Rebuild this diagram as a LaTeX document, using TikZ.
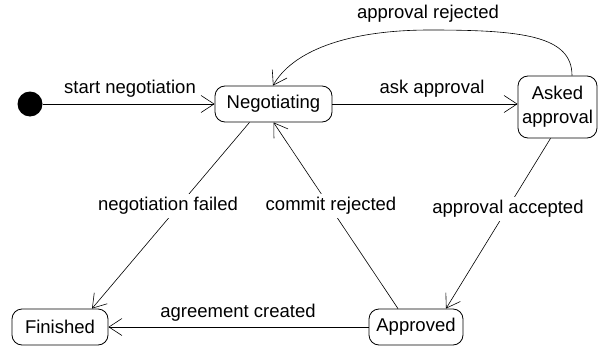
\documentclass[tikz,border=0pt]{standalone}
\usepackage{fontspec}
\setmainfont{Liberation Sans}
\usetikzlibrary{arrows.meta,calc}

\tikzset{
  state/.style={draw, line width=0.8pt, rounded corners=10pt, fill=white,
    minimum height=36pt, inner sep=2pt, font=\fontsize{18.5}{24}\selectfont},
  trans/.style={draw, line width=0.6pt, -{Straight Barb[length=13pt,width=17pt,line width=0.6pt]}},
  lbl/.style={font=\fontsize{18.5}{22}\selectfont, inner sep=1pt},
  cutlbl/.style={lbl, fill=white, inner sep=3pt},
}

\begin{document}
\begin{tikzpicture}[x=1pt, y=-1pt]
  \useasboundingbox (0,0) rectangle (613,353);

  % initial pseudo-state
  \node[circle, fill=black, minimum size=25pt, inner sep=0pt] (init) at (30,104) {};

  % states
  \node[state, minimum width=117pt] (neg) at (273.5,104) {Negotiating};
  \node[state, minimum width=79pt, minimum height=62pt, align=center] (ask) at (557.5,107) {Asked\\approval};
  \node[state, minimum width=96pt] (fin) at (60,327) {Finished};
  \node[state, minimum width=94pt] (app) at (416,327) {Approved};

  % horizontal transitions
  \draw[trans] (init) -- (neg);
  \node[lbl] (lstart) at (130,89) {start negotiation};

  \draw[trans] (neg) -- (neg -| ask.west);
  \node[lbl] (lask) at (432,89) {ask approval};

  \draw[trans] (app) -- (fin);
  \node[lbl] (lagree) at (238,313) {agreement created};

  % returning arc over the top
  \coordinate (arcstart) at ($(ask.north)+(14.5,0)$);
  \coordinate (arcend) at ($(neg.north)+(-0.5,0)$);
  \draw[trans] (arcstart) .. controls ($(arcstart)+(0,-40)$) and (522,30) .. (430,30)
     .. controls (345,30) and (292,52) .. (arcend);
  \node[lbl] (lrej) at (428,14) {approval rejected};

  % diagonal transitions
  \coordinate (nfs) at ($(neg.south)+(-24,0)$);
  \coordinate (nft) at ($(fin.north)+(32,0)$);
  \draw[trans] (nfs) -- (nft);
  \node[cutlbl] (lfail) at (168,206) {negotiation failed};

  \coordinate (crs) at ($(app.north)+(-18,0)$);
  \draw[trans] (crs) -- (neg.south);
  \node[cutlbl] (lcommit) at (331,206) {commit rejected};

  \coordinate (aas) at ($(ask.south)+(-7,0)$);
  \coordinate (aat) at ($(app.north)+(30,0)$);
  \draw[trans] (aas) -- (aat);
  \node[cutlbl] (lacc) at (508,209) {approval accepted};
\end{tikzpicture}
\end{document}
